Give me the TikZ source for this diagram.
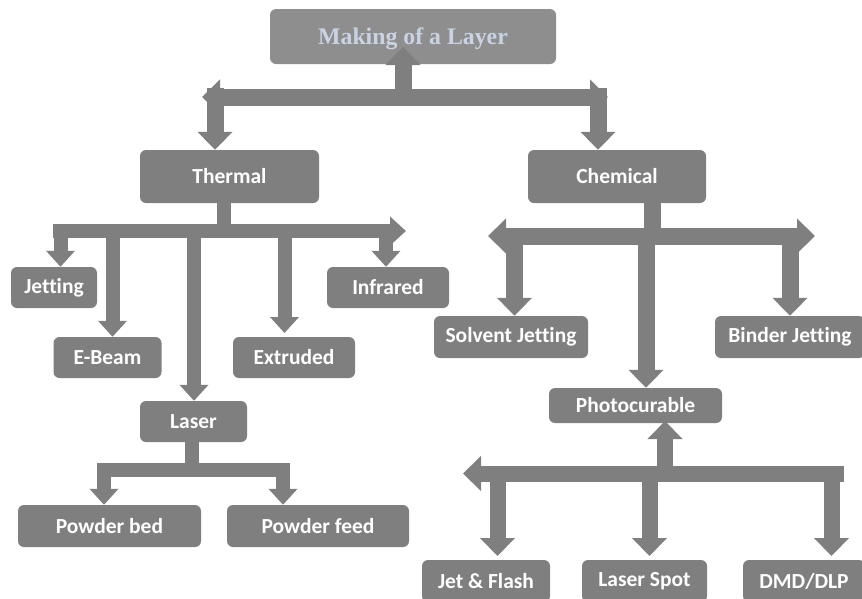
\documentclass[tikz,border=0pt]{standalone}
\usepackage{fontspec}
\setmainfont{Carlito}[Ligatures=NoCommon]
\newfontfamily\titlefont{Liberation Serif}
\usepackage{xcolor}
\usetikzlibrary{arrows.meta}

\definecolor{boxgray}{HTML}{7F7F7F}
\definecolor{titlegray}{HTML}{8E8E8E}
\definecolor{titleblue}{HTML}{C9D3E3}

\begin{document}
\begin{tikzpicture}[x=1pt,y=-1pt,
  box/.style={fill=boxgray, rounded corners=6pt, text=white,
    font=\fontsize{21.5}{25}\selectfont\bfseries, inner sep=0pt},
  bigarrow/.style={draw=boxgray, line width=17pt,
    -{Triangle[width=34pt,length=18pt]}},
  bigbar/.style={draw=boxgray, line width=17pt,
    {Triangle[width=34pt,length=18pt]}-{Triangle[width=34pt,length=18pt]}},
  smallarrow/.style={draw=boxgray, line width=14pt,
    -{Triangle[width=28pt,length=16pt]}},
  smallbar/.style={draw=boxgray, line width=14pt}]
 \useasboundingbox (0,0) rectangle (862,598);

 % boxes
 \node[box, fill=titlegray, minimum width=286pt, minimum height=55pt] (layer) at (413,36.5) {};
 \node[box, minimum width=179pt, minimum height=53pt] (thermal) at (229.5,176.5) {Thermal};
 \node[box, minimum width=178pt, minimum height=53pt] (chemical) at (617,176.5) {Chemical};
 \node[box, minimum width=86pt, minimum height=41pt] (jetting) at (54,287.5) {Jetting};
 \node[box, minimum width=108pt, minimum height=41pt] (ebeam) at (107.5,357.5) {E-Beam};
 \node[box, minimum width=122pt, minimum height=41pt] (extruded) at (294,357.5) {Extruded};
 \node[box, minimum width=122pt, minimum height=41pt] (infrared) at (388,287.5) {Infrared};
 \node[box, minimum width=107pt, minimum height=41pt] (laser) at (193.5,421.5) {Laser};
 \node[box, minimum width=183pt, minimum height=42pt] (bed) at (109.5,526) {Powder bed};
 \node[box, minimum width=182pt, minimum height=42pt] (feed) at (318,526) {Powder feed};
 \node[box, minimum width=154pt, minimum height=42pt] (solvent) at (511,337) {Solvent Jetting};
 \node[box, minimum width=150pt, minimum height=42pt] (binder) at (790,337) {Binder Jetting};
 \node[box, minimum width=173pt, minimum height=35pt] (photo) at (635.5,405.5) {Photocurable};
 \node[box, minimum width=128pt, minimum height=42pt] (jetflash) at (486,581) {Jet \& Flash};
 \node[box, minimum width=125pt, minimum height=42pt] (laserspot) at (644.5,581) {Laser Spot};
 \node[box, minimum width=122pt, minimum height=42pt] (dmd) at (804,581) {DMD/DLP};

 % top level
 \coordinate (topL) at (202,97);
 \coordinate (topR) at (608,97);
 \draw[bigbar] (topL) -- (topR);
 \draw[bigarrow] (403,97) -- (403,47);
 \draw[bigarrow] (215,88) -- (thermal.north -| 215,0);
 \draw[bigarrow] (598,88) -- (chemical.north -| 598,0);
 \node[text=titleblue, font=\titlefont\fontsize{23.8}{28}\selectfont\bfseries] (layertxt) at (413,38.5) {Making of a Layer};

 % thermal
 \coordinate (thL) at (53,231);
 \coordinate (thR) at (406,231);
 \draw[smallbar] (thermal.south -| 223.5,0) -- (223.5,231);
 \draw[smallarrow] (thL) -- (thR);
 \draw[smallarrow] (60.5,224) -- (jetting.north -| 60.5,0);
 \draw[smallarrow] (112.5,224) -- (ebeam.north -| 112.5,0);
 \draw[smallarrow] (194,224) -- (laser.north -| 194,0);
 \draw[smallarrow] (284.5,224) -- (284.5,333);
 \draw[smallarrow] (386,224) -- (infrared.north -| 386,0);

 % laser
 \coordinate (laL) at (97,470);
 \coordinate (laR) at (290,470);
 \draw[smallbar] (laser.south -| 192,0) -- (192,470);
 \draw[smallbar] (laL) -- (laR);
 \draw[smallarrow] (104,463) -- (bed.north -| 104,0);
 \draw[smallarrow] (283,463) -- (feed.north -| 283,0);

 % chemical
 \coordinate (chL) at (488,236);
 \coordinate (chR) at (815,236);
 \draw[bigbar] (chL) -- (chR);
 \draw[draw=boxgray, line width=17pt] (chemical.south -| 652,0) -- (652,236);
 \draw[bigarrow] (514.5,228) -- (solvent.north -| 514.5,0);
 \draw[bigarrow] (646,228) -- (photo.north -| 646,0);
 \draw[bigarrow] (790,228) -- (binder.north -| 790,0);

 % photocurable
 \coordinate (phL) at (463,473.5);
 \coordinate (phR) at (844,473.5);
 \draw[bigarrow, line width=16pt] (phR) -- (phL);
 \draw[bigarrow, line width=16pt] (665,473.5) -- (665,421);
 \draw[bigarrow, line width=16pt] (497.5,466) -- (497.5,556);
 \draw[bigarrow, line width=16pt] (649.5,466) -- (649.5,556);
 \draw[bigarrow, line width=16pt] (831.5,466) -- (831.5,556);
\end{tikzpicture}
\end{document}
